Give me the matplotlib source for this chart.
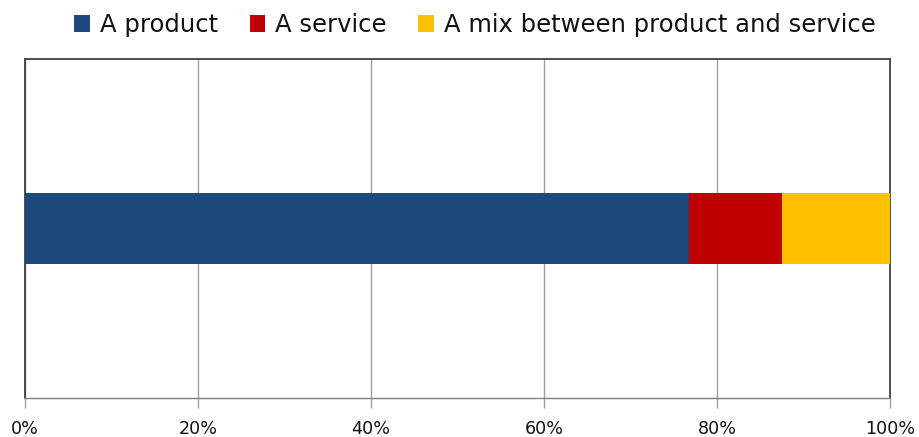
import matplotlib.pyplot as plt

plt.rcParams['font.family'] = ['DejaVu Sans']

labels = ["A product", "A service", "A mix between product and service"]
shares = [76.8, 10.7, 12.5]
colors = ["#1F497D", "#C00000", "#FFC000"]
ticks = [0, 20, 40, 60, 80, 100]
tick_labels = ["0%", "20%", "40%", "60%", "80%", "100%"]

fig = plt.figure(figsize=(9.19, 4.37), dpi=100)
ax = fig.add_axes([25 / 919, 1 - 398 / 437, 865 / 919, 339 / 437])

left = 0
for lab, val, col in zip(labels, shares, colors):
    ax.barh(0, val, left=left, height=0.212, color=col, label=lab, zorder=3)
    left += val

ax.set_xlim(0, 100)
ax.set_ylim(-0.5, 0.5)
ax.set_yticks([])
ax.set_xticks(ticks)
ax.set_xticklabels(tick_labels, fontsize=12.6, color='#111111')
ax.tick_params(axis='x', direction='out', length=7, width=1, color='#A0A0A0', pad=9)
ax.grid(axis='x', color='#A0A0A0', linewidth=1, zorder=0)
for s in ax.spines.values():
    s.set_color('#404040')
    s.set_linewidth(1.3)
ax.spines['bottom'].set_color('#808080')
ax.spines['bottom'].set_linewidth(1)

fig.legend(loc='center', bbox_to_anchor=(475 / 919, 1 - 25 / 437), ncol=3, frameon=False,
           fontsize=17.5, handlelength=0.65, handleheight=0.65, handletextpad=0.4,
           columnspacing=1.3, labelcolor='#111111')

fig.savefig("out.png", dpi=100)
